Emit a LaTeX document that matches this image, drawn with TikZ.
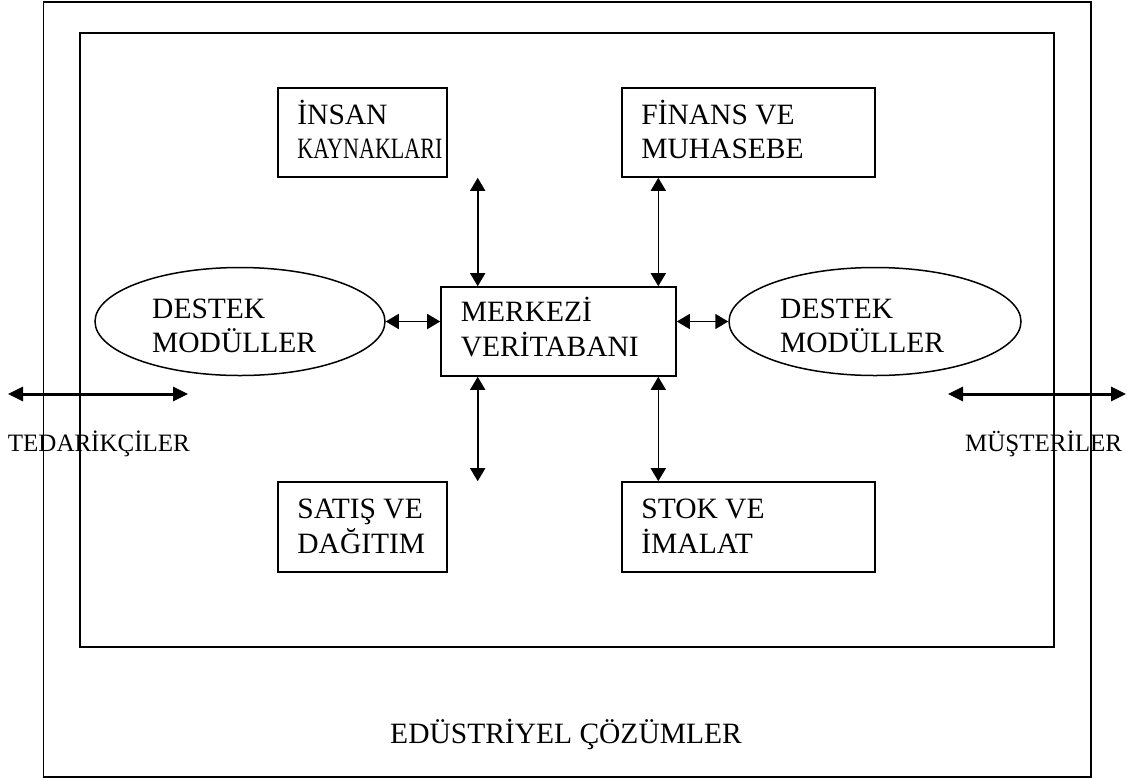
\documentclass[tikz,border=0pt]{standalone}
\usepackage{fontspec}
\usepackage{graphicx}
\setmainfont{Liberation Serif}
\usetikzlibrary{arrows.meta,shapes.geometric,calc}
% two left-aligned lines whose base is the first line's baseline
\newcommand\twoline[2]{\begin{tabular}[t]{@{}l@{}}#1\\#2\end{tabular}}
\begin{document}
\begin{tikzpicture}[x=1pt,y=-1pt,
  frame/.style={draw, line width=1.8pt},
  modbox/.style={draw, line width=1.6pt, rectangle, inner sep=0pt},
  modell/.style={draw, line width=1.5pt, ellipse, inner sep=0pt},
  boxtext/.style={anchor=base west, inner sep=0pt, font=\fontsize{29.5}{34}\selectfont},
  sidetext/.style={anchor=base west, inner sep=0pt, font=\fontsize{25}{30}\selectfont},
  link/.style={line width=1.6pt, {Triangle[length=13pt,width=15pt]}-{Triangle[length=13pt,width=15pt]}},
  flow/.style={line width=3pt, {Triangle[length=15pt,width=14pt]}-{Triangle[length=15pt,width=14pt]}},
]
\useasboundingbox (0,0) rectangle (1127,780);

% frames
\draw[frame] (43.5,2) rectangle (1090.7,777);
\draw[frame] (80,33.3) rectangle (1054,647);

% module boxes
\node[modbox, minimum width=169pt, minimum height=89pt] (insan) at (362.5,132.5) {};
\node[modbox, minimum width=253pt, minimum height=89pt] (finans) at (748.5,132.5) {};
\node[modbox, minimum width=235pt, minimum height=89pt] (merkez) at (558.5,331.5) {};
\node[modbox, minimum width=169pt, minimum height=90pt] (satis) at (362.5,527) {};
\node[modbox, minimum width=253pt, minimum height=90pt] (stok) at (748.5,527) {};
\node[modell, minimum width=290pt, minimum height=108pt] (destekL) at (240,321.5) {};
\node[modell, minimum width=292pt, minimum height=108pt] (destekR) at (875,321.5) {};

% texts
\node[boxtext] (insanT) at ($(insan.north west)+(20,37)$) {\twoline{İNSAN}{\resizebox{145pt}{\height}{KAYNAKLARI}}};
\node[boxtext] (finansT) at ($(finans.north west)+(20,37)$) {\twoline{FİNANS VE}{MUHASEBE}};
\node[boxtext] (merkezT) at ($(merkez.north west)+(20.5,35.5)$) {\twoline{MERKEZİ}{VERİTABANI}};
\node[boxtext] (satisT) at ($(satis.north west)+(20,37.5)$) {\twoline{SATIŞ VE}{DAĞITIM}};
\node[boxtext] (stokT) at ($(stok.north west)+(20,37.5)$) {\twoline{STOK VE}{İMALAT}};
\node[boxtext] (destekLT) at ($(destekL.center)+(-88,-3.5)$) {\twoline{DESTEK}{MODÜLLER}};
\node[boxtext] (destekRT) at ($(destekR.center)+(-95,-3.5)$) {\twoline{DESTEK}{MODÜLLER}};

% links to the central database
\coordinate (colL) at (477.7,0);
\coordinate (colR) at (658.3,0);
\draw[link] (insan.south -| colL) -- (merkez.north -| colL);
\draw[link] (finans.south -| colR) -- (merkez.north -| colR);
\draw[link] (satis.north -| colL) -- (merkez.south -| colL);
\draw[link] (stok.north -| colR) -- (merkez.south -| colR);
\draw[link] (destekL.east) -- (merkez.west |- destekL.east);
\draw[link] (destekR.west) -- (merkez.east |- destekR.west);

% suppliers and customers
\coordinate (supA) at (8,394);
\coordinate (supB) at (188,394);
\coordinate (cusA) at (948,394);
\coordinate (cusB) at (1126,394);
\draw[flow] (supA) -- (supB);
\draw[flow] (cusA) -- (cusB);
\node[sidetext] (tedarik) at (7.7,451) {TEDARİKÇİLER};
\node[sidetext] (musteri) at (965,451) {MÜŞTERİLER};

\node[anchor=base, inner sep=0pt, font=\fontsize{29.5}{34}\selectfont] (endustri) at (566,743.3) {EDÜSTRİYEL ÇÖZÜMLER};
\end{tikzpicture}
\end{document}
